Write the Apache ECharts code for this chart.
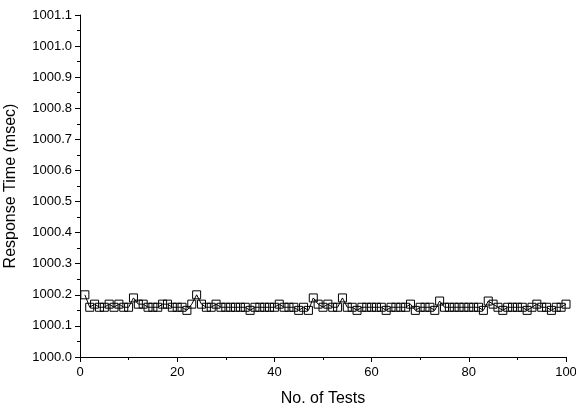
<!DOCTYPE html>
<html><head><meta charset="utf-8">
<script src="https://cdn.jsdelivr.net/npm/echarts@6/dist/echarts.min.js"></script>
<style>html,body{margin:0;padding:0;background:#fff}#c{width:576px;height:408px}</style>
</head><body><div id="c"></div>
<script>
const testNo = Array.from({length:100},(_, i)=>i+1);
const responseTime = [
1000.20,1000.16,1000.17,1000.16,1000.16,1000.17,1000.16,1000.17,1000.16,1000.16,
1000.19,1000.17,1000.17,1000.16,1000.16,1000.16,1000.17,1000.17,1000.16,1000.16,
1000.16,1000.15,1000.17,1000.20,1000.17,1000.16,1000.16,1000.17,1000.16,1000.16,
1000.16,1000.16,1000.16,1000.16,1000.15,1000.16,1000.16,1000.16,1000.16,1000.16,
1000.17,1000.16,1000.16,1000.16,1000.15,1000.16,1000.15,1000.19,1000.17,1000.16,
1000.17,1000.16,1000.16,1000.19,1000.16,1000.16,1000.15,1000.16,1000.16,1000.16,
1000.16,1000.16,1000.15,1000.16,1000.16,1000.16,1000.16,1000.17,1000.15,1000.16,
1000.16,1000.16,1000.15,1000.18,1000.16,1000.16,1000.16,1000.16,1000.16,1000.16,
1000.16,1000.16,1000.15,1000.18,1000.17,1000.16,1000.15,1000.16,1000.16,1000.16,
1000.16,1000.15,1000.16,1000.17,1000.16,1000.16,1000.15,1000.16,1000.16,1000.17
];
const xTitle = "No. of Tests";
const yTitle = "Response Time (msec)";
const chart = echarts.init(document.getElementById('c'));
const font = "'Liberation Sans', Arial, sans-serif";
chart.setOption({
  animation:false,
  grid:{left:80,right:10,top:15,bottom:51,outerBoundsMode:'none',containLabel:false},
  xAxis:{type:'value',min:0,max:100,interval:20,
    name:xTitle,nameLocation:'middle',nameGap:34,
    nameTextStyle:{fontFamily:font,fontSize:16,color:'#000'},
    axisLine:{lineStyle:{color:'#000',width:1}},
    axisTick:{show:true,length:5,lineStyle:{color:'#000'}},
    minorTick:{show:true,splitNumber:2,length:3,lineStyle:{color:'#000'}},
    splitLine:{show:false},
    axisLabel:{fontFamily:font,fontSize:13,color:'#000',margin:9}},
  yAxis:{type:'value',min:1000.0,max:1001.1,interval:0.1,
    name:yTitle,nameLocation:'middle',nameGap:61,
    nameTextStyle:{fontFamily:font,fontSize:16,color:'#000'},
    axisLine:{show:true,lineStyle:{color:'#000',width:1}},
    axisTick:{show:true,length:5,lineStyle:{color:'#000'}},
    minorTick:{show:true,splitNumber:2,length:3,lineStyle:{color:'#000'}},
    splitLine:{show:false},
    axisLabel:{fontFamily:font,fontSize:13,color:'#000',margin:8,
      formatter:v=>v.toFixed(1)}},
  series:[{type:'line',data:testNo.map((x,i)=>[x,responseTime[i]]),
    symbol:'rect',symbolSize:8,showAllSymbol:true,
    itemStyle:{color:'rgba(0,0,0,0)',borderColor:'#000',borderWidth:1},
    lineStyle:{color:'#000',width:1}}]
});
</script></body></html>
